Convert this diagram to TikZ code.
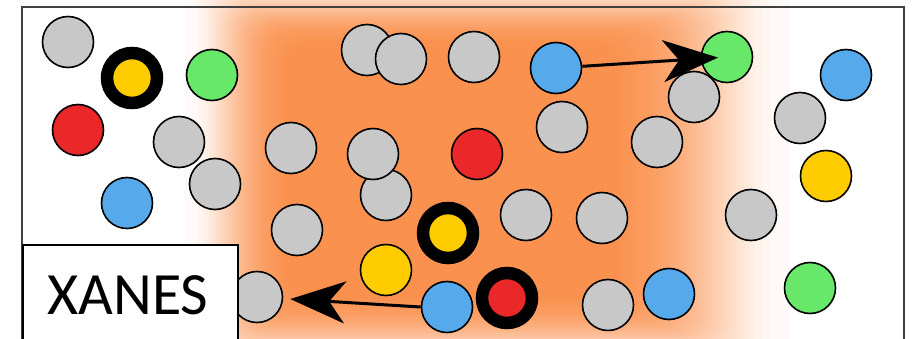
\documentclass[tikz,border=0pt]{standalone}
\usepackage{fontspec}
\usepackage{xcolor}
\usepackage{tikz}
\usetikzlibrary{arrows.meta,positioning}
\newfontfamily\labelfont{Carlito}

\definecolor{glow}{RGB}{250,140,70}
\definecolor{atgrey}{RGB}{200,200,200}
\definecolor{atred}{RGB}{234,40,42}
\definecolor{atgreen}{RGB}{104,232,104}
\definecolor{atblue}{RGB}{86,170,236}
\definecolor{atyellow}{RGB}{255,204,0}

\begin{document}
\begin{tikzpicture}[
  x=1pt,y=-1pt,
  atom/.style={circle,draw=black,line width=1.6pt,minimum size=51pt,inner sep=0pt},
  grey/.style={atom,fill=atgrey},
  red/.style={atom,fill=atred},
  green/.style={atom,fill=atgreen},
  blue/.style={atom,fill=atblue},
  yellow/.style={atom,fill=atyellow},
  ring/.style={circle,draw=black,line width=12.5pt,minimum size=50pt,inner sep=0pt},
  arr/.style={-{Stealth[length=55pt,width=42pt,inset=16pt]},line width=3pt}
]
\useasboundingbox (0,0) rectangle (912,339);
\clip (0,0) rectangle (912,339);
% orange glow in the middle
\foreach \i in {0,...,79}{
  \pgfmathsetmacro\t{sqrt(\i/79)}
  \fill[glow,fill opacity=0.038,rounded corners=25pt]
    ({185+105*\t},{-25+70*\t}) rectangle ({790-180*\t},{375-80*\t});
}
% frame
\draw[line width=1.5pt,black!75] (22,7) rectangle (904,360);

% grey atoms
\node[grey] (gr1) at (68,42) {};
\node[grey] (gr2) at (179,142) {};
\node[grey] (gr3) at (215,184) {};
\node[grey] (gr4) at (291,148) {};
\node[grey] (gr5) at (297,230) {};
\node[grey] (gr6) at (257,297) {};
\node[grey] (gr7) at (367,50) {};
\node[grey] (gr8) at (401,59) {};
\node[grey] (gr9) at (474,57) {};
\node[grey] (gr10) at (562,127) {};
\node[grey] (gr11) at (386,195) {};
\node[grey] (gr12) at (373,154) {};
\node[grey] (gr13) at (526,215) {};
\node[grey] (gr14) at (602,218) {};
\node[grey] (gr15) at (608,305) {};
\node[grey] (gr16) at (694,97) {};
\node[grey] (gr17) at (657,142) {};
\node[grey] (gr18) at (800,118) {};
\node[grey] (gr19) at (751,215) {};

% coloured atoms
\node[red] (rd1) at (78,130) {};
\node[red] (rd2) at (477,154) {};
\node[green] (gn1) at (212,75) {};
\node[green] (gn2) at (727,57) {};
\node[green] (gn3) at (810,288) {};
\node[blue] (bl1) at (127,203) {};
\node[blue] (bl2) at (556,68) {};
\node[blue] (bl3) at (447,307) {};
\node[blue] (bl4) at (669,294) {};
\node[blue] (bl5) at (846,75) {};
\node[yellow] (yl1) at (386,270) {};
\node[yellow] (yl2) at (826,176) {};

% absorbing atoms
\node[ring,fill=atyellow] (ry1) at (132,78) {};
\node[ring,fill=atyellow] (ry2) at (448,233) {};
\node[ring,fill=atred] (rr1) at (507,298) {};

% scattering paths
\draw[arr,shorten >=9pt] (bl2) -- (gn2.center);
\draw[arr,shorten >=7pt] (bl3.west) -- (gr6);

% label
\node[draw=black,line width=1.5pt,fill=white,anchor=north west,
  minimum width=215pt,minimum height=110pt,inner sep=0pt] (lbl) at (22,244) {};
\node[font=\labelfont\fontsize{60}{64}\selectfont] (xanes) at (128,295) {XANES};
\end{tikzpicture}
\end{document}
